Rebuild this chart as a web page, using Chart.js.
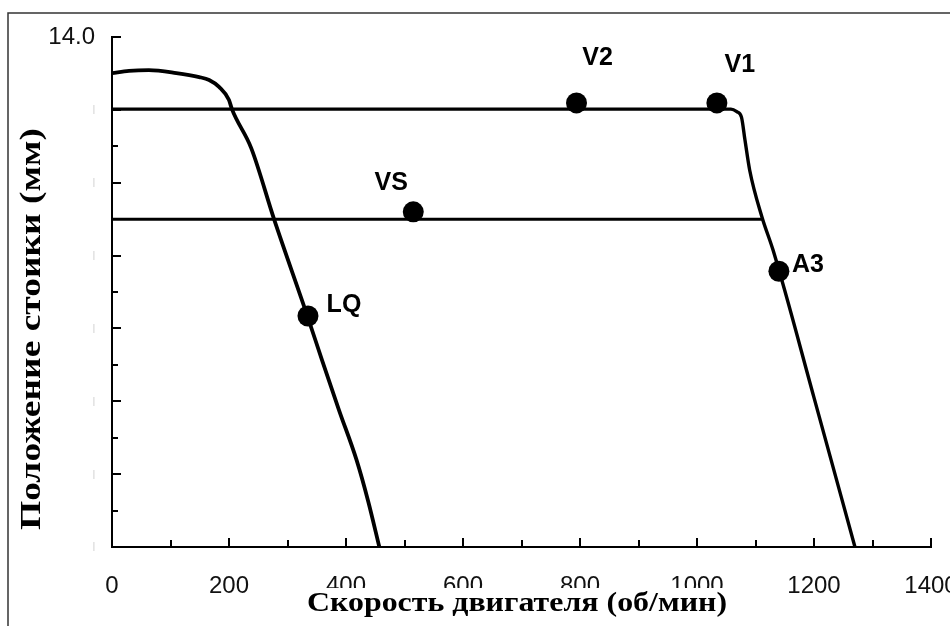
<!DOCTYPE html>
<html>
<head>
<meta charset="utf-8">
<script src="https://cdn.jsdelivr.net/npm/chart.js@4/dist/chart.umd.min.js"></script>
<style>
  html, body { margin: 0; padding: 0; background: #fff; }
  #wrap { width: 950px; height: 626px; position: relative; }
</style>
</head>
<body>
<div id="wrap"><canvas id="c" width="950" height="626"></canvas></div>
<script>
// Lug-curve (LQ) — rack position vs engine speed
const leftCurveRpm = [0, 29, 63, 110, 149, 166, 183, 200, 205, 238, 277, 334, 359, 388, 418, 438, 457];
const leftCurvePos = [13.01, 13.07, 13.09, 13.01, 12.90, 12.82, 12.63, 12.27, 12.02, 10.95, 9.0, 6.34, 5.13, 3.76, 2.39, 1.25, 0];

// Full-load line with governor cut-off branch
const upperCurveRpm = [0, 1058, 1068, 1076, 1082, 1090, 1111, 1130, 1200, 1270];
const upperCurvePos = [12.02, 12.02, 11.95, 11.8, 11.17, 10.35, 9.06, 8.15, 4.1, 0];

// Part-load line
const vsLineRpm = [0, 1111];
const vsLinePos = [9.0, 9.0];

// Operating points
const markerNames = ['V2', 'V1', 'VS', 'LQ', 'A3'];
const markerRpm = [794, 1034, 515, 335, 1140];
const markerPos = [12.19, 12.19, 9.2, 6.34, 7.57];

// Axis ticks and titles
const rpmTickValues = [0, 200, 400, 600, 800, 1000, 1200, 1400];
const posTopLabel = '14.0';
const xTitle = 'Скорость двигателя (об/мин)';
const yTitle = 'Положение стоики (мм)';

const toXY = (xs, ys) => xs.map((x, i) => ({ x, y: ys[i] }));

const tickFamily = '"Liberation Sans Narrow", "Liberation Sans", Arial, sans-serif';

// Label placement around each marker (pixel offsets from the dot centre)
const markerLabelOffsets = {
  V2: [21, -45], V1: [23, -38], VS: [-22, -29], LQ: [36, -11], A3: [29, -6]
};

const framePlugin = {
  id: 'frame',
  beforeDraw(chart) {
    const ctx = chart.ctx;
    ctx.save();
    ctx.fillStyle = '#fff';
    ctx.fillRect(0, 0, chart.width, chart.height);
    ctx.strokeStyle = '#333';
    ctx.lineWidth = 1.5;
    ctx.strokeRect(8, 13, 2000, 2000);
    ctx.restore();
  }
};

// Inward tick marks: minor every 1 mm / 100 rpm, longer on labelled values
const innerTicksPlugin = {
  id: 'innerTicks',
  afterDatasetsDraw(chart) {
    const { ctx, chartArea, scales } = chart;
    ctx.save();
    ctx.strokeStyle = '#000';
    ctx.lineWidth = 2;
    ctx.beginPath();
    for (let v = scales.y.min; v <= scales.y.max; v += 1) {
      const py = Math.round(scales.y.getPixelForValue(v));
      const len = v % 2 === 0 ? 9 : 6;
      ctx.moveTo(chartArea.left, py);
      ctx.lineTo(chartArea.left + len, py);
    }
    for (let v = scales.x.min; v <= scales.x.max; v += 100) {
      const px = Math.round(scales.x.getPixelForValue(v));
      const len = v % 200 === 0 ? 9 : 7;
      ctx.moveTo(px, chartArea.bottom);
      ctx.lineTo(px, chartArea.bottom - len);
    }
    ctx.stroke();
    ctx.restore();
  }
};

const markerLabelPlugin = {
  id: 'markerLabels',
  afterDatasetsDraw(chart) {
    const ctx = chart.ctx;
    const meta = chart.getDatasetMeta(3);
    ctx.save();
    ctx.font = 'bold 25px "Liberation Sans", Arial, sans-serif';
    ctx.fillStyle = '#000';
    ctx.textAlign = 'center';
    ctx.textBaseline = 'middle';
    meta.data.forEach((pt, i) => {
      const name = markerNames[i];
      const off = markerLabelOffsets[name];
      ctx.fillText(name, pt.x + off[0], pt.y + off[1]);
    });
    ctx.restore();
  }
};

// Draw text centred at (0,0) of the current transform, stretched to a given width
function fittedText(ctx, text, width) {
  const w = ctx.measureText(text).width;
  ctx.save();
  ctx.scale(width / w, 1);
  ctx.fillText(text, 0, 0);
  ctx.restore();
}

const axisTitlesPlugin = {
  id: 'axisTitles',
  afterDraw(chart) {
    const ctx = chart.ctx;
    ctx.save();
    ctx.textAlign = 'center';
    ctx.textBaseline = 'alphabetic';
    // x title on a white box laid over the lower half of the tick labels
    const xw = 420, cx = 517;
    ctx.fillStyle = '#fff';
    ctx.fillRect(cx - xw / 2 - 2, 588, xw + 4, 40);
    ctx.fillStyle = '#000';
    ctx.font = 'bold 28px "Liberation Serif", "Times New Roman", serif';
    ctx.save();
    ctx.translate(cx, 611);
    fittedText(ctx, xTitle, xw);
    ctx.restore();
    // y title, rotated
    ctx.font = 'bold 29px "Liberation Serif", "Times New Roman", serif';
    ctx.translate(40, 329);
    ctx.rotate(-Math.PI / 2);
    fittedText(ctx, yTitle, 402);
    ctx.restore();
  }
};

const curveStyle = {
  showLine: true,
  borderColor: '#000',
  borderWidth: 3.8,
  pointRadius: 0,
  pointHoverRadius: 0,
  fill: false,
  cubicInterpolationMode: 'monotone'
};

new Chart(document.getElementById('c'), {
  type: 'scatter',
  data: {
    datasets: [
      { ...curveStyle, label: 'LQ', data: toXY(leftCurveRpm, leftCurvePos) },
      { ...curveStyle, label: 'Full load', borderWidth: 3.4, data: toXY(upperCurveRpm, upperCurvePos) },
      { ...curveStyle, label: 'VS', borderWidth: 3, data: toXY(vsLineRpm, vsLinePos) },
      {
        label: 'Points',
        data: toXY(markerRpm, markerPos),
        showLine: false,
        pointRadius: 10.5,
        pointHoverRadius: 10.5,
        pointBackgroundColor: '#000',
        pointBorderColor: '#000',
        pointBorderWidth: 0
      }
    ]
  },
  options: {
    responsive: false,
    animation: false,
    events: [],
    layout: { padding: { left: 0, top: 37, right: 19, bottom: 0 } },
    plugins: { legend: { display: false }, tooltip: { enabled: false }, title: { display: false } },
    scales: {
      x: {
        type: 'linear',
        min: 0,
        max: 1400,
        afterBuildTicks(scale) { scale.ticks = rpmTickValues.map(v => ({ value: v })); },
        afterFit(scale) { scale.height = 79; scale.paddingLeft = 0; scale.paddingRight = 0; },
        grid: { display: false, drawTicks: false },
        border: { display: true, color: '#000', width: 2 },
        ticks: {
          padding: 25,
          maxRotation: 0,
          autoSkip: false,
          color: '#111',
          font: { family: tickFamily, size: 24 },
          callback: v => String(v)
        }
      },
      y: {
        type: 'linear',
        min: 0,
        max: 14,
        afterFit(scale) { scale.width = 112; scale.paddingTop = 0; scale.paddingBottom = 0; },
        grid: { display: false, drawTicks: false },
        border: { display: true, color: '#000', width: 2 },
        ticks: {
          stepSize: 2,
          padding: 17,
          autoSkip: false,
          color: ctx => ctx.tick && ctx.tick.value === 14 ? '#111' : '#c8c8c8',
          font: ctx => ({
            family: tickFamily,
            size: ctx.tick && ctx.tick.value === 14 ? 24 : 9
          }),
          callback: v => v === 14 ? posTopLabel : '|'
        }
      }
    }
  },
  plugins: [framePlugin, innerTicksPlugin, markerLabelPlugin, axisTitlesPlugin]
});
</script>
</body>
</html>
